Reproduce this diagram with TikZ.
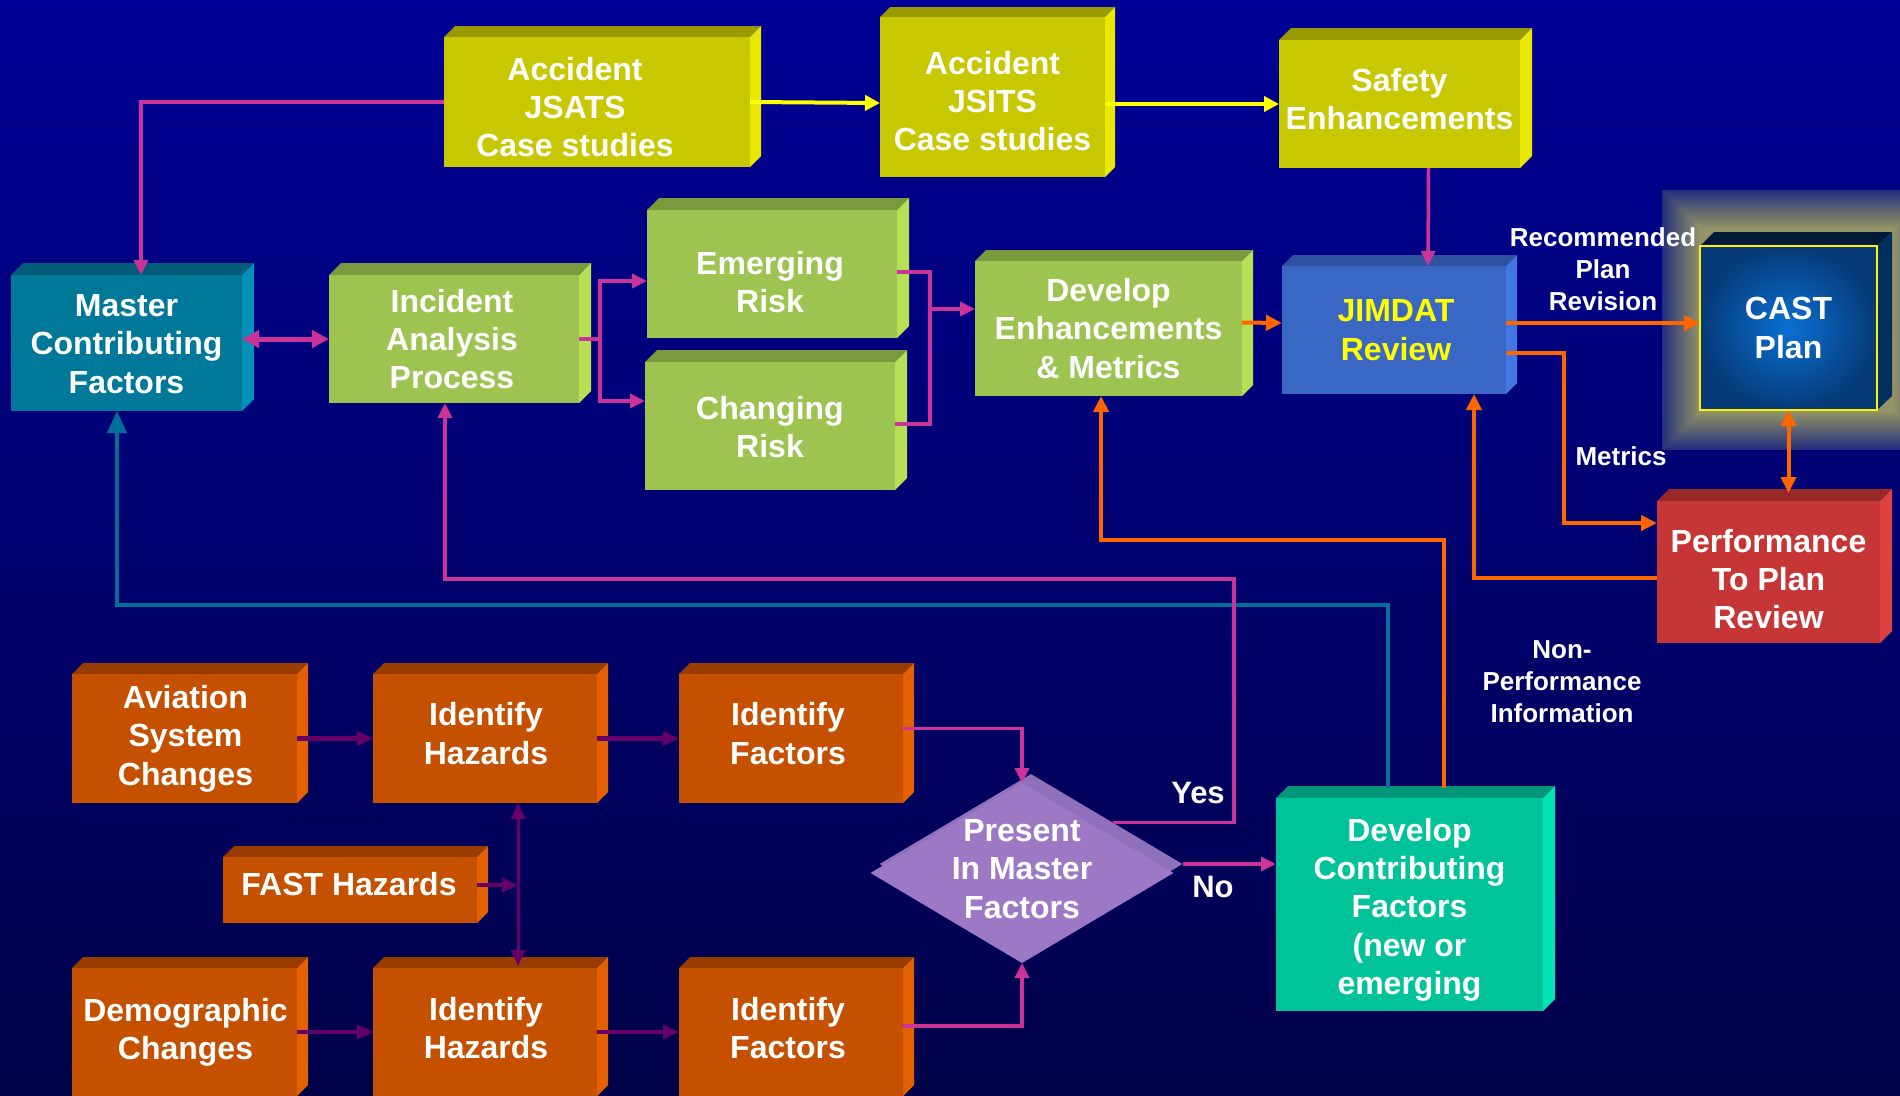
\documentclass[tikz,border=0pt]{standalone}
\usepackage{fontspec}
\setmainfont{Liberation Sans}
\usetikzlibrary{arrows.meta,calc,shapes.geometric}
\definecolor{bgTop}{RGB}{0,0,150}
\definecolor{bgBot}{RGB}{0,0,72}
\definecolor{yelF}{HTML}{C8C800}\definecolor{yelT}{HTML}{9A9A00}\definecolor{yelS}{HTML}{E8E800}
\definecolor{grnF}{HTML}{9DC350}\definecolor{grnT}{HTML}{7B9A3D}\definecolor{grnS}{HTML}{B8E055}
\definecolor{tealF}{HTML}{00789A}\definecolor{tealT}{HTML}{005C78}\definecolor{tealS}{HTML}{0090B8}
\definecolor{bluF}{HTML}{3A66C4}\definecolor{bluT}{HTML}{2E52A0}\definecolor{bluS}{HTML}{4276E0}
\definecolor{redF}{HTML}{C63636}\definecolor{redT}{HTML}{962828}\definecolor{redS}{HTML}{E04040}
\definecolor{cfF}{HTML}{00C39A}\definecolor{cfT}{HTML}{00967A}\definecolor{cfS}{HTML}{00E4B4}
\definecolor{orF}{HTML}{C45000}\definecolor{orT}{HTML}{983C00}\definecolor{orS}{HTML}{E46000}
\definecolor{castT}{HTML}{001A38}\definecolor{castS}{HTML}{003060}
\definecolor{castIn}{HTML}{0A70D2}\definecolor{castOut}{HTML}{063A78}
\definecolor{glowIn}{HTML}{949466}\definecolor{glowOut}{HTML}{24307C}
\definecolor{diaF}{HTML}{9D79C5}\definecolor{diaB}{HTML}{9070B8}
\definecolor{magL}{HTML}{CC3399}\definecolor{purL}{HTML}{660066}
\definecolor{tealL}{HTML}{00709A}\definecolor{orgL}{HTML}{FF6600}\definecolor{yelL}{HTML}{FFFF00}
\definecolor{jimTxt}{HTML}{FFFF00}
% #1 name, #2 left, #3 top, #4 right, #5 bottom, #6 colour prefix, #7 depth, #8 text, #9 text offset
\newcommand\threed[9]{%
  \fill[#6T] (#2,#3) -- ({#2+#7},{#3-#7}) -- ({#4+#7},{#3-#7}) -- (#4,#3) -- cycle;
  \fill[#6S] (#4,#3) -- ({#4+#7},{#3-#7}) -- ({#4+#7},{#5-#7}) -- (#4,#5) -- cycle;
  \node[face, fill=#6F, anchor=north west, minimum width={(#4-#2)*1pt}, minimum height={(#5-#3)*1pt}] (#1) at (#2,#3) {};
  \node[boxtext] (#1t) at ($(#1.center)+(#9)$) {#8};
}
\begin{document}
\begin{tikzpicture}[x=1pt,y=-1pt,
  face/.style={inner sep=0pt, outer sep=0pt, draw=none},
  boxtext/.style={text=white, font=\bfseries\fontsize{32}{38.3}\selectfont, align=center, inner sep=1pt, outer sep=0pt},
  lbl/.style={text=white, font=\bfseries\fontsize{26}{32}\selectfont, align=center, inner sep=0pt},
  yn/.style={text=white, font=\bfseries\fontsize{31}{36}\selectfont, inner sep=0pt},
  mg/.style={draw=magL, line width=3.5pt},
  og/.style={draw=orgL, line width=4pt},
  yl/.style={draw=yelL, line width=4pt},
  pp/.style={draw=purL, line width=4.5pt},
  tl/.style={draw=tealL, line width=4pt},
  arrM/.style={arrows={-Triangle[length=15pt,width=14pt]}},
  darrM/.style={arrows={Triangle[length=17pt,width=17pt]-Triangle[length=17pt,width=17pt]}},
  arrO/.style={arrows={-Triangle[length=16pt,width=15pt]}},
  darrO/.style={arrows={Triangle[length=16pt,width=15pt]-Triangle[length=16pt,width=15pt]}},
  arrY/.style={arrows={-Triangle[length=15pt,width=15pt]}},
  arrP/.style={arrows={-Triangle[length=16pt,width=14pt]}},
  darrP/.style={arrows={Triangle[length=16pt,width=14pt]-Triangle[length=16pt,width=14pt]}},
  arrT/.style={arrows={-Triangle[length=22pt,width=19pt]}}]
\useasboundingbox (0,0) rectangle (1900,1095);
\shade[top color=bgTop, bottom color=bgBot] (0,0) rectangle (1900,1095);

% glow behind CAST
\foreach \k in {0,...,38} {
  \pgfmathtruncatemacro\pc{\k*100/38}
  \fill[glowIn!\pc!glowOut] ({1662+\k},{190+\k}) rectangle ({1932-\k},{450-\k});
}

% boxes
\threed{jsats}{444}{37}{750}{167}{yel}{11}{Accident\\JSATS\\Case studies}{-22,5}
\threed{jsits}{880}{17}{1105}{177}{yel}{10}{Accident\\JSITS\\Case studies}{0,4}
\threed{safety}{1279}{40}{1520}{168}{yel}{12}{Safety\\Enhancements}{0,-5}
\threed{master}{11}{275}{242}{411}{teal}{12}{Master\\Contributing\\Factors}{0,1}
\threed{incident}{329}{275}{579}{403}{grn}{12}{Incident\\Analysis\\Process}{-2,0}
\threed{emerging}{647}{210}{897}{338}{grn}{12}{Emerging\\Risk}{-2,8}
\threed{changing}{645}{362}{895}{490}{grn}{12}{Changing\\Risk}{0,1}
\threed{develop}{975}{261}{1242}{396}{grn}{11}{Develop\\Enhancements\\\& Metrics}{0,0}
\threed{jimdat}{1282}{266}{1506}{394}{blu}{11}{\textcolor{jimTxt}{JIMDAT}\\\textcolor{jimTxt}{Review}}{2,0}
\threed{perf}{1657}{501}{1880}{643}{red}{12}{Performance\\To Plan\\Review}{0,7}
\threed{devcf}{1276}{798}{1543}{1011}{cf}{12}{Develop\\Contributing\\Factors\\(new or\\emerging}{0,5}
\threed{avi}{72}{674}{297}{803}{or}{11}{Aviation\\System\\Changes}{1,0}
\threed{haz1}{373}{674}{597}{803}{or}{11}{Identify\\Hazards}{1,-5}
\threed{fac1}{679}{674}{903}{803}{or}{11}{Identify\\Factors}{-3,-5}
\threed{fast}{223}{857}{477}{923}{or}{11}{FAST Hazards}{-1,-6}
\threed{demo}{72}{968}{297}{1096}{or}{11}{Demographic\\Changes}{1,0}
\threed{haz2}{373}{968}{597}{1096}{or}{11}{Identify\\Hazards}{1,-4}
\threed{fac2}{679}{968}{903}{1096}{or}{11}{Identify\\Factors}{-3,-4}

% CAST plan box
\fill[castT] (1700,246) -- (1714,232) -- (1892,232) -- (1877,246) -- cycle;
\fill[castS] (1877,246) -- (1892,232) -- (1892,396) -- (1877,410) -- cycle;
\node[boxtext, anchor=north west, minimum width=177pt, minimum height=164pt,
  inner color=castIn, outer color=castOut, draw=yellow, line width=2.5pt] (cast) at (1700,246) {CAST\\Plan};

% decision diamond
\node[diamond, fill=diaB, minimum width=303pt, minimum height=180pt, inner sep=0pt] (diaback) at (1031,864) {};
\node[diamond, fill=diaF, minimum width=303pt, minimum height=180pt, inner sep=0pt, outer sep=0pt] (dia) at (1022,873) {};
\node[boxtext] (diatext) at (1022,869) {Present\\In Master\\Factors};

% labels
\node[lbl] (lrec) at (1603,269) {Recommended\\Plan\\Revision};
\node[lbl] (lmet) at (1621,456) {Metrics};
\node[lbl] (lnon) at (1562,682) {Non-\\Performance\\Information};
\node[yn] (lyes) at (1198,793) {Yes};
\node[yn] (lno) at (1213,887) {No};

% yellow connectors
\draw[yl, arrY] (jsats.east) -- ($(jsits.west)+(0,6)$);
\draw[yl, arrY] (jsits.east |- safety.west) -- (safety.west);

% magenta connectors (top)
\draw[mg, arrM] (jsats.west) -| ($(master.north)+(14.5,0)$);
\draw[mg, line width=5pt, darrM] (master.east |- incident.west) -- (incident.west);
\coordinate (ib) at ($(incident.east)+(21,0)$);
\draw[mg] (incident.east) -- (ib);
\draw[mg, arrM] (ib) |- ($(emerging.west)+(0,7)$);
\draw[mg, arrM] (ib) |- ($(changing.west)+(0,-25)$);
\coordinate (jc) at (930,309);
\draw[mg] ($(emerging.east)+(0,-2)$) -| (jc);
\draw[mg] ($(changing.east)+(0,-2)$) -| (jc);
\draw[mg, arrM] (jc) -- (jc -| develop.west);
\draw[mg, arrM] ($(safety.south)+(29,0)$) -- ($(jimdat.north)+(34,0)$);

% orange connectors
\draw[og, arrO] ($(develop.east)+(0,-6)$) -- ($(jimdat.west)+(0,-7)$);
\coordinate (jr) at ($(jimdat.east)+(0,-7)$);
\draw[og, arrO] (jr) -- (jr -| cast.west);
\coordinate (jm) at ($(jimdat.east)+(0,23)$);
\coordinate (pm) at ($(perf.west)+(0,-49)$);
\draw[og, arrO] (jm) -- ++(58,0) |- (pm);
\draw[og, darrO] (cast.south) -- ($(perf.north -| cast.south)+(0,-8)$);
\coordinate (pj) at ($(perf.west)+(0,6)$);
\draw[og, arrO] (pj) -| ($(jimdat.south)+(80,0)$);
\draw[og, arrO] ($(devcf.north)+(34.5,-10)$) |- ($(develop.south)+(-7.5,144)$) -- ($(develop.south)+(-7.5,0)$);

% teal connector
\draw[tl, arrT] ($(devcf.north)+(-21.5,-10)$) |- ($(master.south)+(-9.5,194)$) -- ($(master.south)+(-9.5,0)$);

% decision connectors
\draw[mg, arrM] ($(dia.north)!0.54!(dia.east)+(9,-9)$) -- ++(121,0) |- ($(incident.south)+(-9,176)$) -- ($(incident.south)+(-9,0)$);
\draw[mg, arrM] ($(fac1.east)+(0,-10)$) -| (dia.north);
\draw[mg, arrM] ($(fac2.east)+(0,-6)$) -| (dia.south);
\coordinate (dn) at ($(dia.east)+(9,-9)$);
\draw[mg, arrM] (dn) -- (dn -| devcf.west);

% purple connectors
\draw[pp, arrP] (avi.east) -- (haz1.west);
\draw[pp, arrP] (haz1.east) -- (fac1.west);
\draw[pp, arrP] (demo.east) -- (haz2.west);
\draw[pp, arrP] (haz2.east) -- (fac2.west);
\coordinate (hv) at ($(haz1.south)+(33,0)$);
\draw[pp, line width=3pt, darrP] (hv) -- ($(haz2.north)+(33,-2)$);
\coordinate (fv) at ($(fast.east)+(0,-5)$);
\draw[pp, arrP] (fv) -- (fv -| hv);
\end{tikzpicture}
\end{document}
